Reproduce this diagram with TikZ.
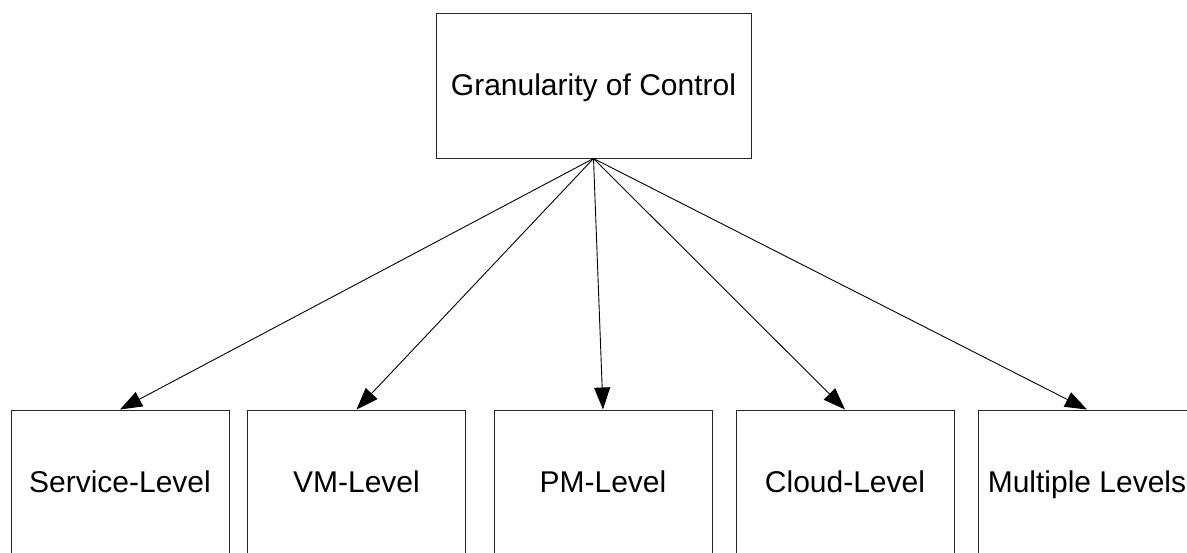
\documentclass[tikz,border=0pt]{standalone}
\usepackage{fontspec}
\setmainfont{Liberation Sans}
\usetikzlibrary{arrows.meta}
\begin{document}
\begin{tikzpicture}[x=1pt,y=-1pt,
  box/.style={draw=black!85, line width=1pt, fill=white, inner sep=0pt,
    minimum width=218pt, minimum height=145pt, text height=23pt, text depth=4pt,
    font=\fontsize{30pt}{36pt}\selectfont},
  conn/.style={draw=black, line width=0.9pt, -{Triangle[length=22pt,width=16pt]}}]
\clip (0,0) rectangle (1187,552);
\fill[white] (0,0) rectangle (1187,552);
\node[box, minimum width=315pt] (g) at (593.5,85.5) {Granularity of Control};
\node[box] (s) at (120,482.5) {Service-Level};
\node[box] (v) at (356.5,482.5) {VM-Level};
\node[box] (p) at (603,482.5) {PM-Level};
\node[box] (c) at (845,482.5) {Cloud-Level};
\node[box] (m) at (1087,482.5) {Multiple Levels};
\foreach \t in {s,v,p,c,m} \draw[conn] (g.south) -- (\t.north);
\end{tikzpicture}
\end{document}
